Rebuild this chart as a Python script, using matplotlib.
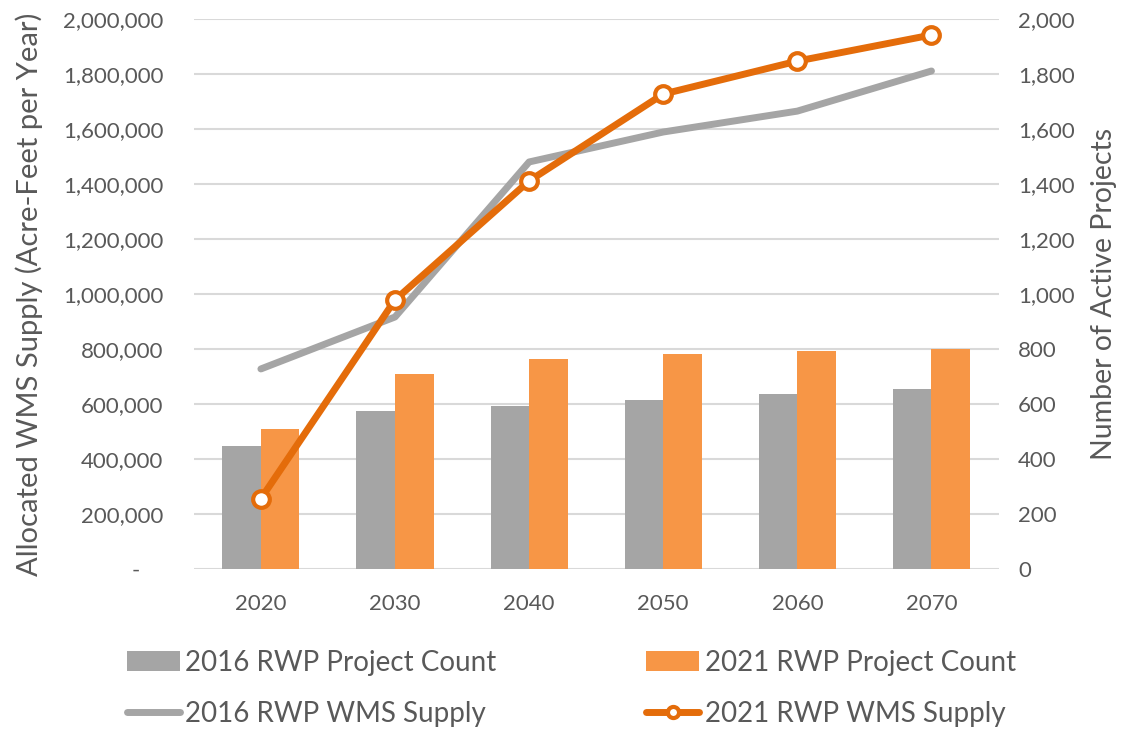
import matplotlib
matplotlib.use("Agg")
import matplotlib.pyplot as plt
import numpy as np
from matplotlib.ticker import FuncFormatter, FixedLocator

plt.rcParams['font.family'] = ['Lato', 'DejaVu Sans']

years = ["2020", "2030", "2040", "2050", "2060", "2070"]
count_2016 = [447, 575, 593, 615, 636, 655]
count_2021 = [509, 709, 764, 782, 793, 800]
supply_2016 = [727000, 916000, 1480000, 1589000, 1665000, 1811000]
supply_2021 = [255000, 978000, 1411000, 1727000, 1847000, 1942000]

gray_bar = "#a5a5a5"
orange_bar = "#f79646"
gray_line = "#a5a5a5"
orange_line = "#e46c0a"
text_col = "#595959"
grid_col = "#d9d9d9"

fig = plt.figure(figsize=(11.27, 7.32), dpi=100)
ax = fig.add_axes([0.172, 0.223, 0.714, 0.751])
ax2 = ax.twinx()

x = np.arange(len(years))
w = 0.2875
ax2.bar(x - w/2, count_2016, width=w, color=gray_bar, label="2016 RWP Project Count", zorder=2)
ax2.bar(x + w/2, count_2021, width=w, color=orange_bar, label="2021 RWP Project Count", zorder=2)
ax2.set_ylim(0, 2000)
ax2.yaxis.set_major_locator(FixedLocator(np.arange(0, 2001, 200)))
ax2.yaxis.set_major_formatter(FuncFormatter(lambda v, p: f"{int(v):,}"))
ax2.grid(axis='y', color=grid_col, linewidth=1.5, zorder=0)
ax2.set_axisbelow(True)

ax.plot(x, supply_2016, color=gray_line, linewidth=5, solid_capstyle='round',
        label="2016 RWP WMS Supply", zorder=3)
ax.plot(x, supply_2021, color=orange_line, linewidth=5, solid_capstyle='round',
        marker='o', markersize=12, markerfacecolor='white', markeredgecolor=orange_line,
        markeredgewidth=3, label="2021 RWP WMS Supply", zorder=4)
ax.set_ylim(0, 2000000)
ax.set_xlim(-0.5, len(years) - 0.5)
ax.yaxis.set_major_locator(FixedLocator(np.arange(0, 2000001, 200000)))
ax.yaxis.set_major_formatter(FuncFormatter(lambda v, p: "-    " if v == 0 else f"{int(v):,}"))
ax.set_xticks(x)
ax.set_xticklabels(years)

ax.set_zorder(ax2.get_zorder() + 1)
ax.patch.set_visible(False)

for a in (ax, ax2):
    for s in a.spines.values():
        s.set_visible(False)
    a.tick_params(length=0, colors=text_col, labelsize=16)
ax.tick_params(axis='y', pad=22)
ax2.tick_params(axis='y', pad=14)
ax.tick_params(axis='x', pad=18)

ax.set_ylabel("Allocated WMS Supply (Acre-Feet per Year)", fontsize=21, color=text_col, labelpad=14)
ax2.set_ylabel("Number of Active Projects", fontsize=20.5, color=text_col, labelpad=12)

h1, l1 = ax2.get_legend_handles_labels()
h2, l2 = ax.get_legend_handles_labels()
handles = [h1[0], h2[0], h1[1], h2[1]]
labels = [l1[0], l2[0], l1[1], l2[1]]
leg = fig.legend(handles, labels, ncol=2, loc='center', bbox_to_anchor=(0.507, 0.06),
                 frameon=False, fontsize=20, labelcolor=text_col, handlelength=1.9,
                 handletextpad=0.2, columnspacing=5.4, labelspacing=0.9)
leg.legend_handles[3].set_markersize(8)

fig.savefig("out.png", dpi=100)
